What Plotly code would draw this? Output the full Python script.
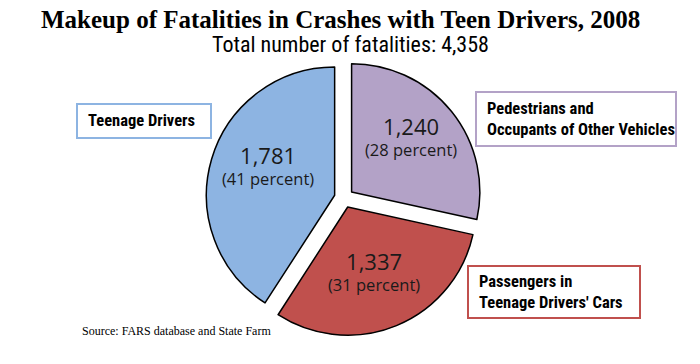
import plotly.graph_objects as go

categories = ["Pedestrians and Occupants of Other Vehicles", "Passengers in Teenage Drivers' Cars", "Teenage Drivers"]
box_labels = ["Pedestrians and<br>Occupants of Other Vehicles", "Passengers in<br>Teenage Drivers' Cars", "Teenage Drivers"]
values = [1240, 1337, 1781]
percents = [28, 31, 41]
total = 4358
colors = ["#B3A2C7", "#C0504D", "#8DB4E2"]

W, H = 700, 364
cx, cy, half = 344, 198, 138

fig = go.Figure()
fig.add_trace(go.Pie(
    labels=categories, values=values, sort=False, direction="clockwise", rotation=0,
    pull=[0.076, 0.076, 0.076], textinfo="none", hoverinfo="label+value+percent",
    marker=dict(colors=colors, line=dict(color="black", width=1.5)),
    domain=dict(x=[(cx - half) / W, (cx + half) / W], y=[1 - (cy + half) / H, 1 - (cy - half) / H]),
    showlegend=False,
))

num_font = "Open Sans, Noto Sans, sans-serif"
val_pos = [(268, 165), (411, 136), (374, 271)]
val_pos = [(411, 136), (374, 271), (268, 165)]
for (x, y), v, p in zip(val_pos, values, percents):
    fig.add_annotation(x=x / W, y=1 - y / H, xref="paper", yref="paper",
                       text=f"<span style='font-size:22px'>{v:,}</span><br>({p} percent)",
                       xanchor="center", yanchor="middle", align="center",
                       showarrow=False, font=dict(family=num_font, size=16.5, color="#1a1a1a"))

box_font = "Liberation Sans Narrow, Roboto Condensed, Arial Narrow, sans-serif"
box_pos = [(476, 92, 676, 146), (468, 266, 640, 318), (77, 104, 211, 138)]
for (x0, y0, x1, y1), lab, c in zip(box_pos, box_labels, colors):
    fig.add_shape(type="rect", xref="paper", yref="paper", x0=x0 / W, x1=x1 / W,
                  y0=1 - y1 / H, y1=1 - y0 / H, line=dict(color=c, width=2), fillcolor="white")
    fig.add_annotation(x=(x0 + 9) / W, y=1 - (y0 + y1) / 2 / H, xref="paper", yref="paper",
                       xanchor="left", yanchor="middle", align="left", text=f"<b>{lab}</b>",
                       showarrow=False, font=dict(family=box_font, size=16.5, color="black"))

fig.add_annotation(x=340 / W, y=1 - 19 / H, xref="paper", yref="paper", showarrow=False,
                   xanchor="center", yanchor="middle",
                   text="<b>Makeup of Fatalities in Crashes with Teen Drivers, 2008</b>",
                   font=dict(family="Liberation Serif, Times New Roman, serif", size=25, color="black"))
fig.add_annotation(x=350 / W, y=1 - 44 / H, xref="paper", yref="paper", showarrow=False,
                   xanchor="center", yanchor="middle",
                   text=f"Total number of fatalities: {total:,}",
                   font=dict(family=box_font, size=22, color="black"))
fig.add_annotation(x=80 / W, y=1 - 331 / H, xref="paper", yref="paper", showarrow=False,
                   xanchor="left", yanchor="middle",
                   text="Source: FARS database and State Farm",
                   font=dict(family="Liberation Serif, Times New Roman, serif", size=12, color="black"))

fig.update_layout(width=W, height=H, margin=dict(l=0, r=0, t=0, b=0),
                  paper_bgcolor="white", plot_bgcolor="white")
fig.write_html("out.html", config={"displayModeBar": False},
               post_script="document.body.style.margin='0';document.body.style.overflow='hidden';")
